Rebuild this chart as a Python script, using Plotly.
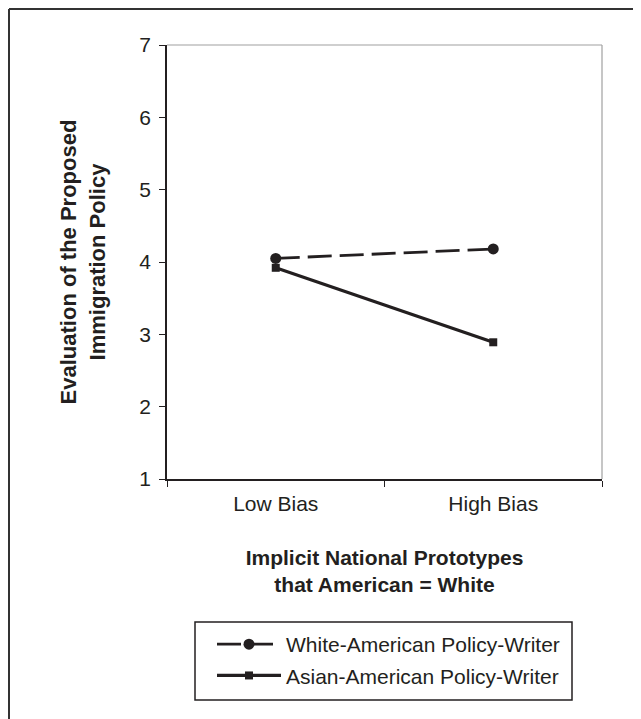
import plotly.graph_objects as go

categories = ["Low Bias", "High Bias"]
white_writer = [4.05, 4.18]
asian_writer = [3.92, 2.89]
y_ticks = [1, 2, 3, 4, 5, 6, 7]

INK = "#231f20"
W, H = 641, 719
OFF = 8  # page body margin
# plot area in page pixels
PX0, PX1, PY0, PY1 = 167, 602, 45, 479
L = PX0 - OFF
T = PY0 - OFF
R = W - (PX1 - OFF)
B = H - (PY1 - OFF)
pw, ph = PX1 - PX0, PY1 - PY0

def px_x(x):
    return (x - PX0) / pw

def px_y(y):
    return (PY1 - y) / ph

fig = go.Figure()
fig.add_trace(go.Scatter(
    x=categories, y=white_writer, name="White-American Policy-Writer",
    mode="lines+markers", legendgroup="w",
    line=dict(color=INK, width=2.8, dash="24px,8px"),
    marker=dict(symbol="circle", size=11, color=INK),
))
fig.add_trace(go.Scatter(
    x=categories, y=asian_writer, name="Asian-American Policy-Writer",
    mode="lines+markers", legendgroup="a",
    line=dict(color=INK, width=3.2),
    marker=dict(symbol="square", size=8, color=INK),
))

font = "Liberation Sans, Arial, sans-serif"
fig.update_layout(
    width=W, height=H,
    margin=dict(l=L, r=R, t=T, b=B, pad=0),
    paper_bgcolor="white", plot_bgcolor="white",
    font=dict(family=font, size=21, color=INK),
    showlegend=True,
    legend=dict(
        x=px_x(212), y=px_y(624), xanchor="left", yanchor="top",
        borderwidth=0, bgcolor="rgba(0,0,0,0)",
        font=dict(size=21, color=INK), itemwidth=64,
        traceorder="grouped", tracegroupgap=1,
    ),
    xaxis=dict(
        type="category", range=[-0.5, 1.5],
        showline=True, linecolor=INK, linewidth=1.5, mirror=False,
        ticks="outside", tickson="boundaries", ticklen=6, tickcolor=INK, tickwidth=1,
        showgrid=False, zeroline=False,
        tickfont=dict(size=21), ticklabelstandoff=5,
        title=dict(text="<b>Implicit National Prototypes<br>that American = White</b>",
                   font=dict(size=21), standoff=36),
    ),
    yaxis=dict(
        range=[1, 7], tickvals=y_ticks, ticktext=[str(v) for v in y_ticks],
        showline=True, linecolor=INK, linewidth=1.5,
        ticks="outside", ticklen=6, tickcolor=INK, tickwidth=1,
        showgrid=False, zeroline=False, tickfont=dict(size=21),
        ticklabelstandoff=4,
        title=dict(text="<b>Evaluation of the Proposed<br>Immigration Policy</b>",
                   font=dict(size=22), standoff=28),
    ),
    shapes=[
        # light top and right border of the plot area
        dict(type="line", xref="paper", yref="paper", x0=0, x1=1, y0=1, y1=1,
             line=dict(color="#a0a0a0", width=1.2)),
        dict(type="line", xref="paper", yref="paper", x0=1, x1=1, y0=0, y1=1,
             line=dict(color="#a0a0a0", width=1.2)),
        # legend frame
        dict(type="rect", xref="paper", yref="paper", x0=px_x(195), x1=px_x(572),
             y0=px_y(700), y1=px_y(622), line=dict(color=INK, width=1.5)),
        # outer frame (top and left visible)
        dict(type="line", xref="paper", yref="paper", x0=px_x(9), x1=px_x(660),
             y0=px_y(9), y1=px_y(9), line=dict(color="#333333", width=2)),
        dict(type="line", xref="paper", yref="paper", x0=px_x(9), x1=px_x(9),
             y0=px_y(9), y1=px_y(740), line=dict(color="#333333", width=2)),
    ],
)

fig.write_html("out.html")
